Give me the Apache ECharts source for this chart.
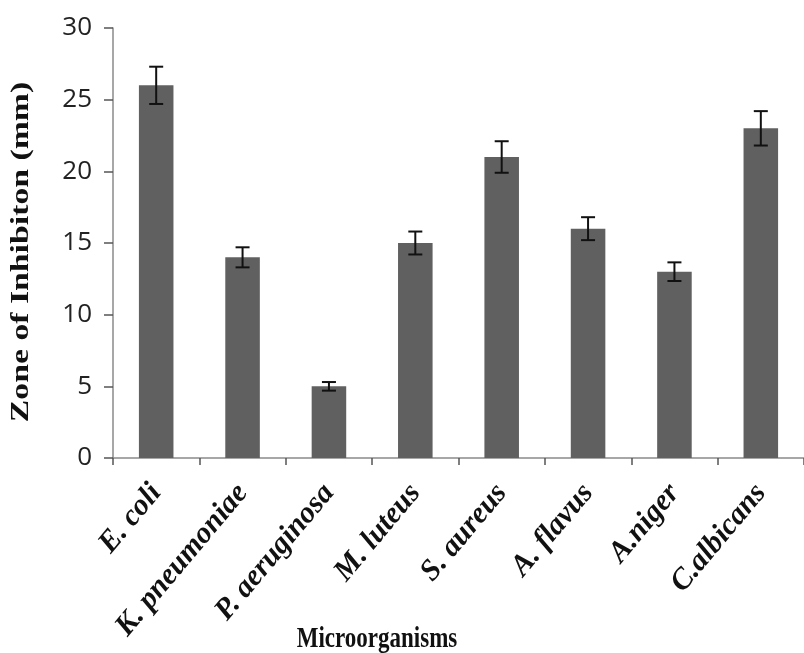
<!DOCTYPE html>
<html>
<head>
<meta charset="utf-8">
<script src="https://cdn.jsdelivr.net/npm/echarts@6/dist/echarts.min.js"></script>
<style>html,body{margin:0;padding:0;background:#fff}#c{width:804px;height:653px}</style>
</head>
<body>
<div id="c"></div>
<script>
const categories = ['E. coli','K. pneumoniae','P. aeruginosa','M. luteus','S. aureus','A. flavus','A.niger','C.albicans'];
const values = [26, 14, 5, 15, 21, 16, 13, 23];
const errors = [1.3, 0.7, 0.3, 0.8, 1.1, 0.8, 0.65, 1.2];
const yTicks = [0, 5, 10, 15, 20, 25, 30];

const chart = echarts.init(document.getElementById('c'));
chart.setOption({
  animation: false,
  grid: { left: 113, right: -5, top: 28, bottom: 195 },
  xAxis: {
    type: 'category',
    data: categories,
    axisLine: { lineStyle: { color: '#8a8a8a', width: 1.5 } },
    axisTick: { show: true, length: 7, alignWithLabel: false, lineStyle: { color: '#555', width: 1.5 } },
    axisLabel: { rotate: 50, margin: 30, interval: 0, fontFamily: 'Liberation Serif', fontWeight: 'bold', fontStyle: 'italic', fontSize: 30, color: '#111' }
  },
  yAxis: {
    type: 'value', min: yTicks[0], max: yTicks[yTicks.length-1], interval: 5,
    axisLine: { show: true, lineStyle: { color: '#8a8a8a', width: 1.5 } },
    axisTick: { show: true, length: 9, lineStyle: { color: '#555', width: 1.5 } },
    splitLine: { show: false },
    axisLabel: { margin: 21, fontFamily: 'Open Sans', fontSize: 26, color: '#222' }
  },
  graphic: [
    { type: 'text', x: 22, y: 252, rotation: Math.PI/2, scaleX: 1.35, z: 10,
      style: { text: 'Zone of Inhibiton (mm)', font: 'bold 25px "Liberation Serif"', fill: '#111', textAlign: 'center', textVerticalAlign: 'middle' } },
    { type: 'text', x: 377, y: 639, scaleY: 1.3, z: 10,
      style: { text: 'Microorganisms', font: 'bold 23px "Liberation Serif"', fill: '#111', textAlign: 'center', textVerticalAlign: 'middle' } }
  ],
  series: [
    { type: 'bar', data: values, barWidth: '40%', itemStyle: { color: '#606060' } },
    { type: 'custom', z: 5,
      data: values.map((v, i) => [i, v - errors[i], v + errors[i]]),
      renderItem: function (params, api) {
        const lo = api.coord([api.value(0), api.value(1)]);
        const hi = api.coord([api.value(0), api.value(2)]);
        const hw = 7;
        const st = { stroke: '#111', lineWidth: 2 };
        return { type: 'group', children: [
          { type: 'line', shape: { x1: hi[0], y1: hi[1], x2: lo[0], y2: lo[1] }, style: st },
          { type: 'line', shape: { x1: hi[0]-hw, y1: hi[1], x2: hi[0]+hw, y2: hi[1] }, style: st },
          { type: 'line', shape: { x1: lo[0]-hw, y1: lo[1], x2: lo[0]+hw, y2: lo[1] }, style: st }
        ]};
      }
    }
  ]
});
</script>
</body>
</html>
